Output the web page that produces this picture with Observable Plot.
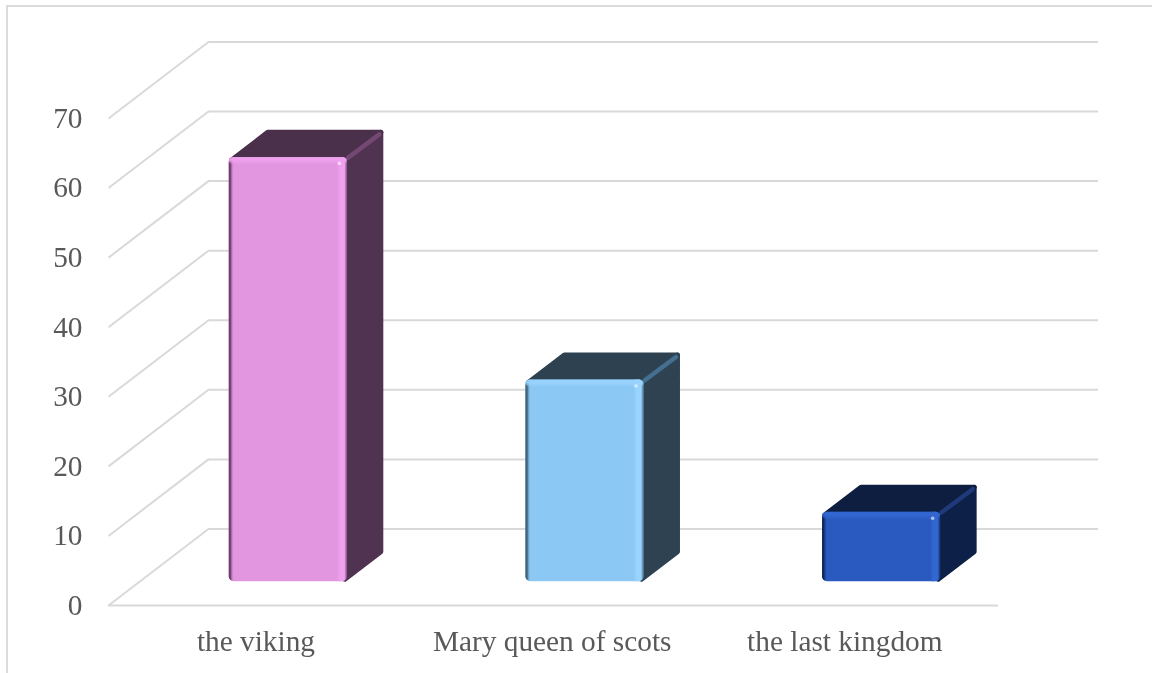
<!DOCTYPE html>
<html>
<head>
<meta charset="utf-8">
<script src="https://cdn.jsdelivr.net/npm/d3@7"></script>
<script src="https://cdn.jsdelivr.net/npm/@observablehq/plot@0.6"></script>
<style>
  html, body { margin: 0; padding: 0; background: #fff; overflow: hidden; }
  #frame { position: absolute; left: 6px; top: 5px; right: -4px; bottom: -4px; border: 2px solid #dcdcdc; box-sizing: border-box; }
  #chart { position: absolute; left: 0; top: 0; will-change: transform; }
  svg { display: block; background: transparent !important; }
</style>
</head>
<body>
<div id="frame"></div>
<div id="chart"></div>
<script>
const categories = ["the viking", "Mary queen of scots", "the last kingdom"];
const values = [61, 29, 10];
const yTicks = [0, 10, 20, 30, 40, 50, 60, 70];
const xTicks = [0.497, 1.4956, 2.482];

const frontColors = ["#e296e0", "#8cc8f4", "#2a5ac0"];
const lightColors = ["#f0a0ee", "#98d4fe", "#3267d2"];
const darkColors  = ["#6f3f70", "#3f6076", "#0f2658"];
const sideColors  = ["#4f3350", "#2f4252", "#0d2048"];
const topColors   = ["#4a304a", "#2e4150", "#0e1e40"];
const edgeColors  = ["#734872", "#456f90", "#1e3a7a"];

// Oblique projection: one unit of depth moves along x and up the value axis
const depthX = 0.337;
const depthY = 11;
const frontDepth = 0.31;
const backDepth = 0.67;
const barWidth = 0.398;
const barCentre = 0.5015;
// Faces are pulled in slightly and stroked with round joins, which rounds their corners
const insetX = 0.0084;
const insetY = 0.36;

const project = (x, v, d) => ({x: x + d * depthX, y: v + d * depthY});

const bars = categories.map((name, i) => ({
  name, i, value: values[i],
  left: i + barCentre - barWidth / 2,
  right: i + barCentre + barWidth / 2
}));

const polygon = (b, color, pts) =>
  pts.map(([x, v, d]) => ({...project(x, v, d), key: b.i, color}));

const sideFaces = bars.flatMap(b => polygon(b, sideColors[b.i], [
  [b.right - insetX, insetY, frontDepth], [b.right - insetX, insetY, backDepth],
  [b.right - insetX, b.value - insetY, backDepth], [b.right - insetX, b.value - insetY, frontDepth]
]));
const topFaces = bars.flatMap(b => polygon(b, topColors[b.i], [
  [b.left + insetX, b.value - insetY, frontDepth], [b.right - insetX, b.value - insetY, frontDepth],
  [b.right - insetX, b.value - insetY, backDepth], [b.left + insetX, b.value - insetY, backDepth]
]));

const defs = () => {
  const d = d3.create("svg:defs");
  bars.forEach(b => {
    const h = d.append("linearGradient").attr("id", `edge${b.i}`);
    [[0, darkColors[b.i], 1], [0.015, darkColors[b.i], 0.95], [0.045, frontColors[b.i], 0],
     [0.915, lightColors[b.i], 0], [0.945, lightColors[b.i], 1], [0.98, lightColors[b.i], 1], [1, darkColors[b.i], 0.75]]
      .forEach(([o, c, a]) => h.append("stop").attr("offset", o).attr("stop-color", c).attr("stop-opacity", a));
    const v = d.append("linearGradient").attr("id", `crown${b.i}`).attr("x1", 0).attr("x2", 0).attr("y1", 0).attr("y2", 1);
    [[0, lightColors[b.i], 0.7], [0.3, lightColors[b.i], 1], [0.6, lightColors[b.i], 0.7], [1, lightColors[b.i], 0]]
      .forEach(([o, c, a]) => v.append("stop").attr("offset", o).attr("stop-color", c).attr("stop-opacity", a));
  });
  return d.node();
};

const grid = {stroke: "#d9d9d9", strokeWidth: 2};
const faceStyle = {x: "x", y: "y", z: "key", fill: "color", stroke: "color", strokeWidth: 5, strokeLinejoin: "round", curve: "linear-closed"};
const frontX = {
  x1: b => project(b.left, 0, frontDepth).x,
  x2: b => project(b.right, 0, frontDepth).x
};
const frontTop = b => b.value + frontDepth * depthY;

const plot = Plot.plot({
  width: 1152,
  height: 673,
  marginLeft: 108,
  marginRight: 154,
  marginTop: 118,
  marginBottom: 68,
  style: {background: "transparent"},
  x: {domain: [0, 3], axis: null},
  y: {domain: [0, 70], axis: null},
  color: {type: "identity"},
  marks: [
    defs,
    Plot.ruleY(yTicks, {y: d => d + depthY, x1: depthX, x2: 3 + depthX, ...grid}),
    Plot.link(yTicks, {x1: 0, y1: d => d, x2: depthX, y2: d => d + depthY, ...grid}),
    Plot.ruleY([0], {x1: 0, x2: 3, ...grid}),
    Plot.axisY(yTicks, {
      anchor: "left", tickSize: 0, tickPadding: 26, label: null,
      fontSize: 29.33, fontFamily: "Liberation Serif", fill: "#595959", fontVariant: "normal"
    }),
    Plot.axisX(xTicks, {
      anchor: "bottom", tickSize: 0, tickPadding: 25, label: null,
      tickFormat: t => categories[Math.floor(t)],
      fontSize: 29.33, fontFamily: "Liberation Serif", fill: "#595959"
    }),
    Plot.line(sideFaces, faceStyle),
    Plot.line(topFaces, faceStyle),
    Plot.link(bars, {
      x1: b => project(b.right, b.value, frontDepth).x,
      y1: b => project(b.right, b.value, frontDepth).y,
      x2: b => project(b.right - insetX, b.value - insetY, backDepth - 0.02).x,
      y2: b => project(b.right - insetX, b.value - insetY, backDepth - 0.02).y,
      dx: 0.5, dy: 0.5,
      stroke: b => edgeColors[b.i], strokeWidth: 4.5, strokeLinecap: "round"
    }),
    Plot.rect(bars, {
      ...frontX, y1: frontDepth * depthY, y2: frontTop,
      fill: b => frontColors[b.i], rx: 5
    }),
    Plot.rect(bars, {
      ...frontX, y1: frontDepth * depthY, y2: frontTop,
      fill: b => `url(#edge${b.i})`, rx: 5
    }),
    Plot.rect(bars, {
      ...frontX, y1: b => frontTop(b) - 1.1, y2: frontTop,
      fill: b => `url(#crown${b.i})`, rx: 5
    }),
    Plot.dot(bars, {
      x: b => project(b.right, b.value, frontDepth).x,
      y: b => project(b.right, b.value, frontDepth).y,
      dx: -8, dy: 6, r: 1.8, fill: "#ffffff", fillOpacity: 0.6
    })
  ]
});
document.getElementById("chart").appendChild(plot);
</script>
</body>
</html>
